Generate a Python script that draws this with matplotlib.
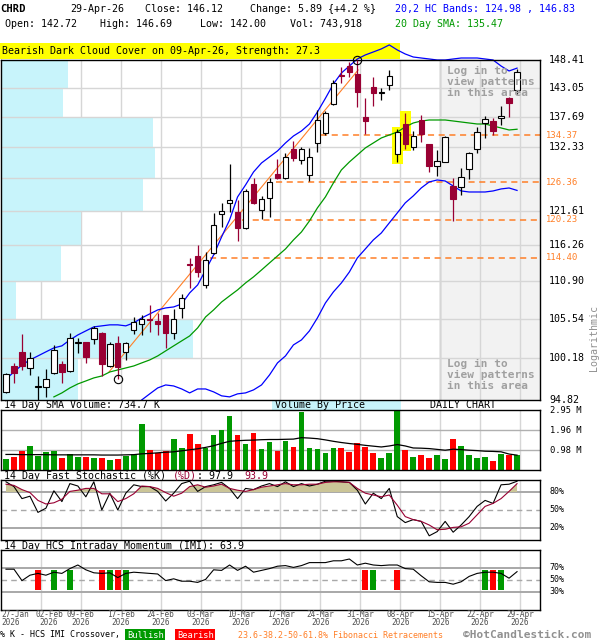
import numpy as np
import matplotlib
matplotlib.use("Agg")
import matplotlib.pyplot as plt
from matplotlib.patches import Rectangle
from matplotlib.transforms import blended_transform_factory as blend

plt.rcParams['font.family'] = 'DejaVu Sans Mono'

# --- daily candles, 27-Jan-26 .. 29-Apr-26 ---
opens = [95.77, 99.17, 101.06, 98.95, 96.46, 96.43, 98.22, 99.43, 98.52, 102.25,
         102.32, 102.72, 103.58, 99.10, 102.18, 101.06, 103.92, 104.81, 105.45, 105.23,
         106.06, 103.62, 107.01, 113.45, 114.64, 110.34, 115.05, 121.16, 122.94, 121.53,
         118.89, 125.99, 121.80, 123.70, 127.71, 127.09, 131.94, 130.09, 127.54, 132.99,
         134.75, 139.99, 145.45, 147.24, 145.64, 137.72, 143.16, 142.10, 143.60, 131.07,
         136.35, 132.39, 137.13, 132.87, 129.11, 129.80, 125.76, 125.50, 128.56, 131.94,
         136.67, 136.95, 137.42, 141.22, 142.72]
highs = [98.26, 99.60, 103.44, 101.06, 97.87, 98.78, 101.96, 99.83, 103.51, 102.90,
         102.40, 104.54, 103.70, 102.30, 103.10, 102.40, 105.79, 106.06, 107.47, 106.31,
         106.10, 106.87, 109.04, 114.30, 116.31, 115.29, 121.27, 122.88, 129.40, 123.42,
         125.20, 126.99, 124.07, 126.99, 130.18, 131.25, 133.39, 132.39, 132.22, 138.95,
         138.70, 144.55, 147.10, 148.08, 148.41, 141.22, 145.18, 142.98, 146.47, 135.52,
         138.35, 135.16, 138.04, 132.90, 131.82, 134.20, 126.99, 128.68, 131.53, 135.93,
         137.85, 137.42, 139.73, 141.30, 146.69]
lows = [95.71, 97.01, 98.65, 98.00, 94.82, 95.24, 98.10, 96.93, 98.40, 100.93,
        99.60, 102.09, 97.87, 99.00, 97.42, 99.96, 103.44, 103.31, 103.76, 103.31,
        101.60, 102.72, 105.61, 109.87, 111.47, 109.95, 114.90, 119.15, 121.53, 116.97,
        118.80, 122.77, 120.32, 120.72, 126.90, 126.90, 129.92, 129.35, 126.54, 131.52,
        134.50, 139.80, 143.92, 145.18, 139.55, 134.57, 139.73, 140.79, 142.66, 129.80,
        131.99, 131.82, 133.27, 128.00, 127.42, 129.70, 120.05, 124.23, 126.83, 131.25,
        133.97, 134.45, 136.23, 137.72, 142.00]
closes = [98.13, 98.22, 99.17, 100.27, 96.63, 97.45, 101.29, 98.43, 102.86, 102.38,
          100.40, 104.22, 99.43, 102.05, 99.04, 102.18, 105.02, 105.47, 105.30, 104.86,
          103.62, 105.47, 108.42, 113.30, 112.29, 114.04, 119.42, 121.56, 123.34, 118.99,
          124.89, 122.98, 123.53, 126.43, 127.04, 130.66, 130.48, 131.94, 130.66, 137.13,
          138.35, 143.92, 145.30, 146.14, 142.23, 137.00, 142.04, 142.25, 145.37, 134.93,
          132.81, 134.27, 134.63, 129.11, 129.92, 134.05, 123.58, 127.16, 131.25, 134.93,
          137.24, 135.16, 137.85, 140.23, 146.12]
volume_m = [0.54, 0.65, 0.93, 1.18, 0.69, 0.87, 0.93, 0.60, 0.77, 0.65,
            0.65, 0.60, 0.60, 0.49, 0.54, 0.70, 0.77, 2.30, 0.98, 0.82,
            0.93, 1.52, 1.09, 1.76, 1.27, 1.11, 1.75, 1.96, 2.65, 1.72,
            1.27, 1.81, 1.03, 1.37, 0.93, 1.42, 1.13, 2.86, 1.09, 1.03,
            0.83, 1.09, 1.09, 0.88, 1.32, 1.13, 0.83, 0.59, 0.83, 2.94,
            0.98, 0.64, 0.74, 0.59, 0.74, 0.54, 1.52, 1.18, 0.74, 0.59,
            0.64, 0.44, 0.78, 0.74, 0.744]
vol_sma_m = [0.77, 0.77, 0.76, 0.76, 0.76, 0.76, 0.75, 0.75, 0.75, 0.75,
             0.75, 0.75, 0.74, 0.74, 0.74, 0.75, 0.76, 0.80, 0.82, 0.85,
             0.88, 0.90, 0.95, 1.00, 1.05, 1.12, 1.20, 1.32, 1.42, 1.45,
             1.47, 1.48, 1.50, 1.51, 1.51, 1.52, 1.53, 1.60, 1.58, 1.55,
             1.49, 1.42, 1.36, 1.31, 1.27, 1.22, 1.18, 1.14, 1.19, 1.26,
             1.19, 1.09, 1.08, 1.06, 1.02, 0.98, 1.03, 1.01, 0.98, 0.96,
             0.93, 0.92, 0.90, 0.79, 0.7347]

# --- overlays ---
hc_upper = [97.48, 98.39, 99.30, 99.96, 100.49, 101.03, 101.56, 101.83, 102.63, 103.31,
            103.86, 104.41, 104.55, 104.69, 104.69, 104.55, 104.96, 105.65, 106.21, 106.77,
            107.05, 107.19, 107.61, 109.19, 110.34, 112.54, 114.79, 117.55, 120.21, 123.91,
            125.88, 128.05, 129.58, 130.61, 131.65, 133.04, 134.27, 135.16, 136.41, 138.58,
            141.10, 143.79, 145.88, 147.24, 148.61, 149.40, 149.99, 150.59, 151.39, 150.39,
            149.59, 149.00, 148.80, 148.61, 148.41, 148.41, 148.61, 148.80, 148.80, 148.80,
            148.61, 148.41, 147.24, 146.28, 146.83]
hc_lower_start = 17
hc_lower = [94.83, 95.59, 96.34, 96.72, 96.59, 96.21, 95.71, 96.21, 96.21, 95.84,
            95.34, 95.21, 95.59, 95.71, 96.09, 96.72, 98.00, 99.57, 100.49, 101.96,
            102.63, 103.86, 105.65, 107.75, 109.33, 110.63, 112.24, 114.34, 115.70, 117.08,
            118.16, 119.74, 121.32, 122.94, 124.07, 125.38, 126.38, 126.71, 126.54, 125.71,
            124.89, 124.72, 124.72, 124.72, 124.89, 125.22, 125.38, 124.98]
sma20_start = 6
sma20 = [95.21, 95.71, 96.34, 96.85, 97.23, 97.62, 97.87, 98.39, 98.65, 98.91,
         99.17, 99.57, 99.96, 100.49, 101.16, 101.83, 102.50, 103.17, 104.27, 105.79,
         106.77, 107.89, 108.76, 109.62, 110.63, 111.52, 112.54, 113.59, 114.64, 115.70,
         117.08, 118.32, 120.05, 122.13, 123.91, 126.21, 128.39, 129.75, 130.95, 132.17,
         133.04, 133.92, 134.45, 134.98, 135.88, 136.59, 136.95, 137.13, 137.13, 137.13,
         136.95, 136.77, 136.59, 136.41, 136.41, 136.05, 135.70, 135.34, 135.47]
swing_low_i, swing_high_i = 14, 44
trend_x = [12.9, 44.1]
trend_y = [98.39, 146.47]
fib_levels = [134.37, 126.36, 120.23, 114.40]
fib_start = [39.4, 33.8, 29.6, 25.6]
pattern_bars = [49, 50]
price_levels = [94.82, 100.18, 105.54, 110.90, 116.26, 121.61, 126.97,
                132.33, 137.69, 143.05, 148.41]
vbp_m = [5.5, 13.7, 1.1, 4.3, 5.7, 10.1, 11.0, 10.8, 4.4, 4.8]   # bottom to top
vbp_full = 38.4

# --- oscillators ---
stoch_k = [97, 89, 69, 73, 46, 53, 82, 64, 94, 90, 72, 97, 50, 78, 50, 78, 92, 89, 89, 81,
           65, 78, 94, 98, 81, 89, 92, 96, 86, 69, 86, 84, 90, 94, 89, 97, 89, 94, 90, 93,
           98, 98, 97, 96, 83, 60, 78, 69, 86, 39, 29, 34, 31, 7, 14, 31, 13, 25, 39, 56,
           66, 61, 92, 93, 97.9]
stoch_d = [93, 91, 84, 79, 66, 60, 62, 68, 81, 83, 86, 86, 77, 77, 64, 69, 77, 90, 89, 86,
           79, 73, 78, 89, 92, 88, 90, 93, 86, 83, 81, 84, 88, 90, 92, 94, 92, 92, 93, 93,
           96, 97, 97, 96, 86, 78, 75, 72, 75, 58, 39, 34, 31, 25, 17, 18, 21, 22, 28, 42,
           56, 61, 69, 81, 93.9]
imi = [68, 68, 49, 58, 61, 58, 63, 61, 69, 75, 67, 62, 61, 62, 54, 61, 63, 62, 61, 60,
       49, 52, 48, 48, 46, 51, 67, 66, 75, 66, 73, 63, 66, 69, 73, 74, 71, 74, 79, 79,
       79, 82, 82, 85, 75, 78, 75, 74, 75, 75, 69, 68, 57, 47, 46, 46, 43, 47, 56, 61,
       63, 63, 61, 53, 63.9]
bull_cross = [6, 8, 13, 15, 46, 60, 62]
bear_cross = [4, 12, 14, 45, 49, 61]

date_labels = ['27-Jan', '02-Feb', '09-Feb', '17-Feb', '24-Feb', '03-Mar', '10-Mar',
               '17-Mar', '24-Mar', '31-Mar', '08-Apr', '15-Apr', '22-Apr', '29-Apr']

RED = '#990033'
GREEN = '#009900'
ORANGE = '#FF7F27'
GRID = '#D6D6D6'
W, H = 600, 640

fig = plt.figure(figsize=(6, 6.4), dpi=100, facecolor='white')


def axes_px(x0, y0, x1, y1):
    a = fig.add_axes([x0 / W, 1 - y1 / H, (x1 - x0) / W, (y1 - y0) / H])
    a.set_xticks([])
    a.set_yticks([])
    for s in a.spines.values():
        s.set_linewidth(1.0)
    return a


def ftext(x, y, s, **kw):
    kw.setdefault('fontsize', 7.2)
    kw.setdefault('va', 'center')
    return fig.text(x / W, 1 - y / H, s, **kw)


def frect(x0, y0, x1, y1, color):
    fig.add_artist(Rectangle((x0 / W, 1 - y1 / H), (x1 - x0) / W, (y1 - y0) / H,
                             transform=fig.transFigure, color=color, lw=0, zorder=-1))


n = len(closes)
idx = np.arange(n)
o, h, l, c = map(np.array, (opens, highs, lows, closes))
up = c >= o
x_lo, x_hi = -0.625, 66.875          # 8 px per bar, panel 540 px wide
grid_x = [5 * k - 0.625 for k in range(1, 14)]
locked_x = 54.375

# ---------------- main price panel ----------------
ax = axes_px(1, 60, 540, 400)
ax.set_yscale('log')
ax.set_xlim(x_lo, x_hi)
ax.set_ylim(price_levels[0], price_levels[-1])
ax.set_yticks([], minor=True)
ax.set_yticks([])

ax.axvspan(locked_x, x_hi, color='#F2F2F2', zorder=0.3, lw=0)
ax.axvline(locked_x, color='#A8A8A8', lw=1.0, zorder=0.4)
for gx in grid_x:
    ax.axvline(gx, color=GRID, lw=1.0, zorder=0.8)

tr_vbp = blend(ax.transAxes, ax.transData)
for lo_, hi_, v in zip(price_levels[:-1], price_levels[1:], vbp_m):
    ax.add_patch(Rectangle((0, lo_), v / vbp_full, hi_ - lo_, transform=tr_vbp,
                           color='#C8F4FB', lw=0, zorder=1))
for lv in price_levels[1:-1]:
    ax.axhline(lv, color=GRID, lw=1.0, zorder=1.1)

for i in pattern_bars:
    ax.add_patch(Rectangle((i - 0.72, l[i] * 0.997), 1.44, h[i] * 1.003 - l[i] * 0.997,
                           color='#FFFF00', lw=0, zorder=1.5))

for lv, st in zip(fib_levels, fib_start):
    ax.hlines(lv, st, x_hi, colors=ORANGE, linestyles=(0, (4, 3)), lw=1.1, zorder=1.6)

ax.plot(trend_x, trend_y, color=ORANGE, lw=0.8, zorder=2)
ax.plot(idx, hc_upper, color='#0000FF', lw=0.9, zorder=2, clip_on=False)
ax.plot(idx[hc_lower_start:], hc_lower, color='#0000FF', lw=0.9, zorder=2)
ax.plot(idx[sma20_start:], sma20, color=GREEN, lw=0.9, zorder=2)

ax.vlines(idx, l, h, colors=np.where(up, 'black', RED), lw=0.9, zorder=3)
ax.bar(idx, np.abs(c - o), bottom=np.minimum(o, c), width=0.68,
       color=np.where(up, 'white', RED), edgecolor=np.where(up, 'black', RED),
       lw=0.8, zorder=4)

ax.plot([swing_low_i], [l[swing_low_i]], 'o', ms=6, mfc='none', mec='black', mew=0.8,
        zorder=5)
ax.plot([swing_high_i], [h[swing_high_i]], 'o', ms=6, mfc='none', mec='black', mew=0.8,
        zorder=5, clip_on=False)

ftext(447, 82, 'Log in to\nview patterns\nin this area', color='#A0A0A0',
      weight='bold', fontsize=8, linespacing=1.15)
ftext(447, 375, 'Log in to\nview patterns\nin this area', color='#A0A0A0',
      weight='bold', fontsize=8, linespacing=1.15)

tr_lab = blend(fig.transFigure, ax.transData)
for lv in price_levels:
    if min(abs(np.log(lv / f)) for f in fib_levels) < 0.008:
        continue
    ax.text(549 / W, lv, f'{lv:.2f}', transform=tr_lab, va='center', fontsize=7.2)
for lv in fib_levels:
    ax.text(546 / W, lv, f'{lv:.2f}', transform=tr_lab, va='center', fontsize=6.4,
            color=ORANGE)
ftext(594, 338, 'Logarithmic', rotation=90, ha='center', color='#909090', fontsize=7.2)

# ---------------- header ----------------
chg = c[-1] - c[-2]
ftext(0, 9, 'CHRD', weight='bold', fontsize=7.6)
ftext(70, 9, '29-Apr-26')
ftext(145, 9, f'Close: {c[-1]:.2f}')
ftext(250, 9, f'Change: {chg:.2f} {{+{chg / c[-2] * 100:.1f} %}}')
ftext(395, 9, f'20,2 HC Bands: {hc_lower[-1]:.2f} , {hc_upper[-1]:.2f}', color='#0000FF')
ftext(5, 24, f'Open: {o[-1]:.2f}')
ftext(100, 24, f'High: {h[-1]:.2f}')
ftext(200, 24, f'Low: {l[-1]:.2f}')
ftext(290, 24, 'Vol: 743,918')
ftext(395, 24, f'20 Day SMA: {sma20[-1]:.2f}', color=GREEN)
frect(0, 43, 400, 59, '#FFFF00')
ftext(2, 51, 'Bearish Dark Cloud Cover on 09-Apr-26, Strength: 27.3')

# ---------------- volume panel ----------------
axv = axes_px(1, 410, 540, 470)
axv.set_xlim(x_lo, x_hi)
axv.set_ylim(0, 2.97)
for gx in grid_x:
    axv.axvline(gx, color=GRID, lw=1.0, zorder=0.5)
for lv in (0.98, 1.96):
    axv.axhline(lv, color='#B0B0B0', lw=1.0, zorder=0.6)
axv.bar(idx, volume_m, width=0.72, color=np.where(up, GREEN, '#FF0000'), zorder=1)
axv.plot(idx, vol_sma_m, color='black', lw=0.9, zorder=2)
tr_v = blend(fig.transFigure, axv.transData)
for lv in (0.98, 1.96, 2.95):
    axv.text(550 / W, lv, f'{lv:.2f} M', transform=tr_v, va='center', fontsize=6.3)
frect(272, 400, 401, 410, '#C8F4FB')
ftext(4, 405, f'14 Day SMA Volume: {vol_sma_m[-1] * 1000:.1f} K')
ftext(275, 405, 'Volume By Price')
ftext(430, 405, 'DAILY CHART')

# ---------------- stochastic panel ----------------
cw = 7.2 / 72 * 100 * 0.602
axs = axes_px(1, 480, 540, 540)
axs.set_xlim(x_lo, x_hi)
axs.set_ylim(0, 100)
for gx in grid_x:
    axs.axvline(gx, color=GRID, lw=1.0, zorder=0.5)
for lv in (80, 20):
    axs.axhline(lv, color='#A8A8A8', lw=1.4, zorder=0.6)
axs.axhline(50, color='#A8A8A8', lw=1.0, ls=(0, (4, 3)), zorder=0.6)
d = np.array(stoch_d, dtype=float)
axs.fill_between(idx, d, 80, where=d > 80, interpolate=True, color='#CBC597', lw=0, zorder=0.7)
axs.fill_between(idx, d, 20, where=d < 20, interpolate=True, color='#CBC597', lw=0, zorder=0.7)
axs.plot(idx, stoch_k, color='black', lw=0.8, zorder=2)
axs.plot(idx, d, color=RED, lw=0.8, zorder=2)
tr_s = blend(fig.transFigure, axs.transData)
for lv in (80, 50, 20):
    axs.text(549 / W, lv, f'{lv}%', transform=tr_s, va='center', fontsize=6)
ftext(4, 476, '14 Day Fast Stochastic (%K)')
ftext(4 + 28 * cw, 476, '(%D)', color=RED)
ftext(4 + 32 * cw, 476, f': {stoch_k[-1]:.1f}')
ftext(4 + 40 * cw, 476, f'{stoch_d[-1]:.1f}', color=RED)

# ---------------- IMI panel ----------------
axi = axes_px(1, 550, 540, 610)
axi.set_xlim(x_lo, x_hi)
axi.set_ylim(0, 100)
for gx in grid_x:
    axi.axvline(gx, color=GRID, lw=1.0, zorder=0.5)
for lv in (70, 30):
    axi.axhline(lv, color='#A8A8A8', lw=1.4, zorder=0.6)
axi.axhline(50, color='#A8A8A8', lw=1.0, ls=(0, (4, 3)), zorder=0.6)
axi.bar(bull_cross, 34, bottom=33, width=0.72, color=GREEN, zorder=1)
axi.bar(bear_cross, 34, bottom=33, width=0.72, color='#FF0000', zorder=1)
axi.plot(idx, imi, color='black', lw=0.8, zorder=2)
tr_i = blend(fig.transFigure, axi.transData)
for lv in (70, 50, 30):
    axi.text(549 / W, lv, f'{lv}%', transform=tr_i, va='center', fontsize=6)
ftext(4, 546, f'14 Day HCS Intraday Momentum (IMI): {imi[-1]:.1f}')

# date labels sit on the weekly grid lines (first one pinned to the left edge)
tr_d = blend(axi.transData, axi.transAxes)
for k, lbl in enumerate(date_labels):
    if k == 0:
        xpos, ha = x_lo, 'left'
    elif k == 1:
        xpos, ha = grid_x[0] + 1.0, 'center'
    else:
        xpos, ha = grid_x[k - 1], 'center'
    axi.text(xpos, 0.0, f'{lbl}\n2026', transform=tr_d, ha=ha, va='top',
             fontsize=5.6, color='#505050', linespacing=0.9)

# ---------------- footer ----------------
ftext(0, 635, '% K - HCS IMI Crossover,', fontsize=6)
ftext(127, 635, 'Bullish', color='white', fontsize=6.3,
      bbox=dict(facecolor=GREEN, edgecolor='none', pad=1.2))
ftext(177, 635, 'Bearish', color='white', fontsize=6.3,
      bbox=dict(facecolor='#FF0000', edgecolor='none', pad=1.2))
ftext(238, 635, '23.6-38.2-50-61.8% Fibonacci Retracements', color=ORANGE, fontsize=6)
ftext(463, 635, '\u00a9HotCandlestick.com', color='#909090', weight='bold', fontsize=8.0)

fig.savefig('out.png', dpi=100, facecolor='white')
